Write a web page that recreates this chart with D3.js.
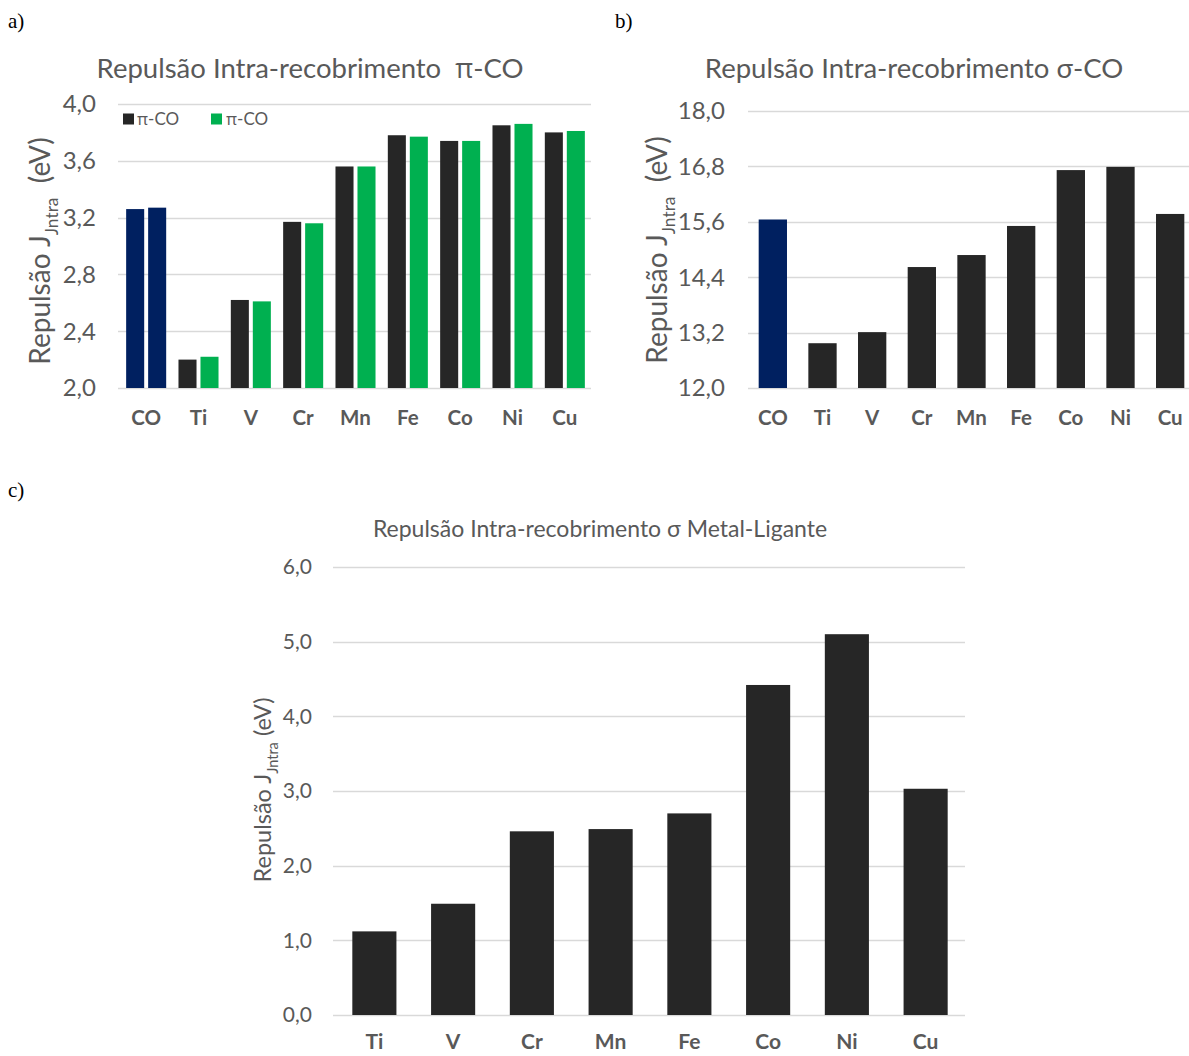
<!DOCTYPE html>
<html>
<head>
<meta charset="utf-8">
<script src="https://cdn.jsdelivr.net/npm/d3@7"></script>
<style>
  body { margin: 0; background: #fff; }
  svg { display: block; }
  .sans { font-family: Lato, "Open Sans", "Noto Sans", sans-serif; }
  .serif { font-family: "Liberation Serif", "DejaVu Serif", serif; }
  .pi { font-family: "Open Sans", "Noto Sans", sans-serif; }
</style>
</head>
<body>
<svg id="fig" width="1189" height="1056"></svg>
<script>
// ---- data ----
const piCategories = ["CO", "Ti", "V", "Cr", "Mn", "Fe", "Co", "Ni", "Cu"];
const piSeriesNames = ["π-CO", "π-CO"];
const piSeriesA = [3.26, 2.20, 2.62, 3.17, 3.56, 3.78, 3.74, 3.85, 3.80];
const piSeriesB = [3.27, 2.22, 2.61, 3.16, 3.56, 3.77, 3.74, 3.86, 3.81];
const piTicks = [2.0, 2.4, 2.8, 3.2, 3.6, 4.0];

const sigmaCategories = ["CO", "Ti", "V", "Cr", "Mn", "Fe", "Co", "Ni", "Cu"];
const sigmaValues = [15.65, 12.97, 13.21, 14.62, 14.88, 15.51, 16.72, 16.79, 15.77];
const sigmaTicks = [12.0, 13.2, 14.4, 15.6, 16.8, 18.0];

const mlCategories = ["Ti", "V", "Cr", "Mn", "Fe", "Co", "Ni", "Cu"];
const mlValues = [1.12, 1.49, 2.46, 2.49, 2.70, 4.42, 5.10, 3.03];
const mlTicks = [0, 1, 2, 3, 4, 5, 6];

// ---- styling ----
const TEXT = "#595959";
const GRID = "#d9d9d9";
const DARK = "#262626";
const GREEN = "#00b050";
const NAVY = "#002060";
const fmt = v => d3.format(".1f")(v).replace(".", ",");
const barColor = (cat, base) => cat === "CO" ? NAVY : base;

const svg = d3.select("#fig");

// Writes a label into a text node, giving the Greek π an upright face
function richText(sel, str) {
  str.split(/(π)/).filter(s => s.length).forEach(part => {
    const t = sel.append("tspan").text(part);
    if (part === "π") t.attr("class", "pi");
  });
}

// Panel letters
[["a)", 8, 28], ["b)", 615, 28], ["c)", 8, 497]].forEach(([t, x, y]) => {
  svg.append("text").attr("class", "serif").attr("x", x).attr("y", y)
    .attr("font-size", 21).attr("fill", "#000").text(t);
});

// Generic panel: gridlines, y tick labels, x category labels, title, y title
function frame(g, o) {
  const { x, y, ticks, gridX0, gridX1, tickX, tickSize, catY, catSize,
          title, titleX, titleY, titleSize, yTitleX, yTitleY, yTitleSize, categories } = o;

  g.append("g").selectAll("line").data(ticks).join("line")
    .attr("x1", gridX0).attr("x2", gridX1)
    .attr("y1", d => Math.round(y(d)) + 0.5).attr("y2", d => Math.round(y(d)) + 0.5)
    .attr("stroke", GRID).attr("stroke-width", 1.3);

  g.append("g").selectAll("text").data(ticks).join("text")
    .attr("class", "sans")
    .attr("x", tickX).attr("y", d => y(d)).attr("dy", "0.35em")
    .attr("text-anchor", "end").attr("font-size", tickSize).attr("fill", TEXT)
    .text(fmt);

  g.append("g").selectAll("text").data(categories).join("text")
    .attr("class", "sans")
    .attr("x", d => x(d) + x.bandwidth() / 2).attr("y", catY).attr("dy", "0.35em")
    .attr("text-anchor", "middle").attr("font-size", catSize).attr("font-weight", 700)
    .attr("fill", TEXT).text(d => d);

  const tt = g.append("text").attr("class", "sans")
    .attr("x", titleX).attr("y", titleY).attr("text-anchor", "middle")
    .attr("font-size", titleSize).attr("fill", TEXT)
    .style("white-space", "pre");
  richText(tt, title);

  const yt = g.append("text").attr("class", "sans")
    .attr("transform", `translate(${yTitleX},${yTitleY}) rotate(-90)`)
    .attr("text-anchor", "middle").attr("font-size", yTitleSize).attr("fill", TEXT)
    .style("white-space", "pre");
  yt.append("tspan").text("Repulsão J");
  yt.append("tspan").attr("dy", yTitleSize * 0.28).attr("font-size", yTitleSize * 0.62).text("Jntra");
  yt.append("tspan").attr("dy", -yTitleSize * 0.28).text(o.yTitleTail);
}

// ---- a) π-CO, two series ----
{
  const g = svg.append("g");
  const x = d3.scaleBand().domain(piCategories).range([120, 591])
    .paddingInner(0.235).paddingOuter(0.1175);
  const y = d3.scaleLinear().domain([2, 4]).range([388, 104]);
  const sub = d3.scaleBand().domain([0, 1]).range([0, x.bandwidth()]).paddingInner(0.18);

  frame(g, { x, y, ticks: piTicks, gridX0: 118, gridX1: 591, tickX: 96, tickSize: 24,
    catY: 418, catSize: 20.5, categories: piCategories,
    title: "Repulsão Intra-recobrimento  π-CO", titleX: 310, titleY: 78, titleSize: 27.5,
    yTitleX: 50, yTitleY: 251, yTitleSize: 28, yTitleTail: "  (eV)" });

  const rows = piCategories.map((c, i) => ({ c, v: [piSeriesA[i], piSeriesB[i]] }));
  const grp = g.append("g").selectAll("g").data(rows).join("g")
    .attr("transform", d => `translate(${x(d.c)},0)`);
  grp.selectAll("rect").data(d => d.v.map((v, k) => ({ c: d.c, v, k }))).join("rect")
    .attr("x", d => sub(d.k)).attr("width", sub.bandwidth())
    .attr("y", d => y(d.v)).attr("height", d => y(2) - y(d.v))
    .attr("fill", d => barColor(d.c, d.k === 0 ? DARK : GREEN));

  // legend
  const leg = g.append("g");
  [[DARK, 123, 137], [GREEN, 211, 226]].forEach(([col, sx, tx], k) => {
    leg.append("rect").attr("x", sx).attr("y", 113.5).attr("width", 11).attr("height", 11).attr("fill", col);
    const lt = leg.append("text").attr("class", "sans").attr("x", tx).attr("y", 119.5).attr("dy", "0.35em")
      .attr("font-size", 17).attr("fill", TEXT);
    richText(lt, piSeriesNames[k]);
  });
}

// ---- b) σ-CO ----
{
  const g = svg.append("g");
  const x = d3.scaleBand().domain(sigmaCategories).range([748, 1195])
    .paddingInner(0.43).paddingOuter(0.215);
  const y = d3.scaleLinear().domain([12, 18]).range([388, 111]);

  frame(g, { x, y, ticks: sigmaTicks, gridX0: 748, gridX1: 1189, tickX: 725, tickSize: 24,
    catY: 418, catSize: 20.5, categories: sigmaCategories,
    title: "Repulsão Intra-recobrimento σ-CO", titleX: 914, titleY: 78, titleSize: 27.5,
    yTitleX: 667, yTitleY: 250, yTitleSize: 28, yTitleTail: "  (eV)" });

  g.append("g").selectAll("rect").data(sigmaCategories).join("rect")
    .attr("x", d => x(d)).attr("width", x.bandwidth())
    .attr("y", (d, i) => y(sigmaValues[i])).attr("height", (d, i) => y(12) - y(sigmaValues[i]))
    .attr("fill", d => barColor(d, DARK));
}

// ---- c) σ Metal-Ligante ----
{
  const g = svg.append("g");
  const x = d3.scaleBand().domain(mlCategories).range([335, 965])
    .paddingInner(0.44).paddingOuter(0.22);
  const y = d3.scaleLinear().domain([0, 6]).range([1015, 567]);

  frame(g, { x, y, ticks: mlTicks, gridX0: 333, gridX1: 965, tickX: 312, tickSize: 21,
    catY: 1042, catSize: 21, categories: mlCategories,
    title: "Repulsão Intra-recobrimento σ Metal-Ligante", titleX: 600, titleY: 537, titleSize: 23,
    yTitleX: 271, yTitleY: 790, yTitleSize: 23.5, yTitleTail: " (eV)" });

  g.append("g").selectAll("rect").data(mlCategories).join("rect")
    .attr("x", d => x(d)).attr("width", x.bandwidth())
    .attr("y", (d, i) => y(mlValues[i])).attr("height", (d, i) => y(0) - y(mlValues[i]))
    .attr("fill", DARK);
}
</script>
</body>
</html>
